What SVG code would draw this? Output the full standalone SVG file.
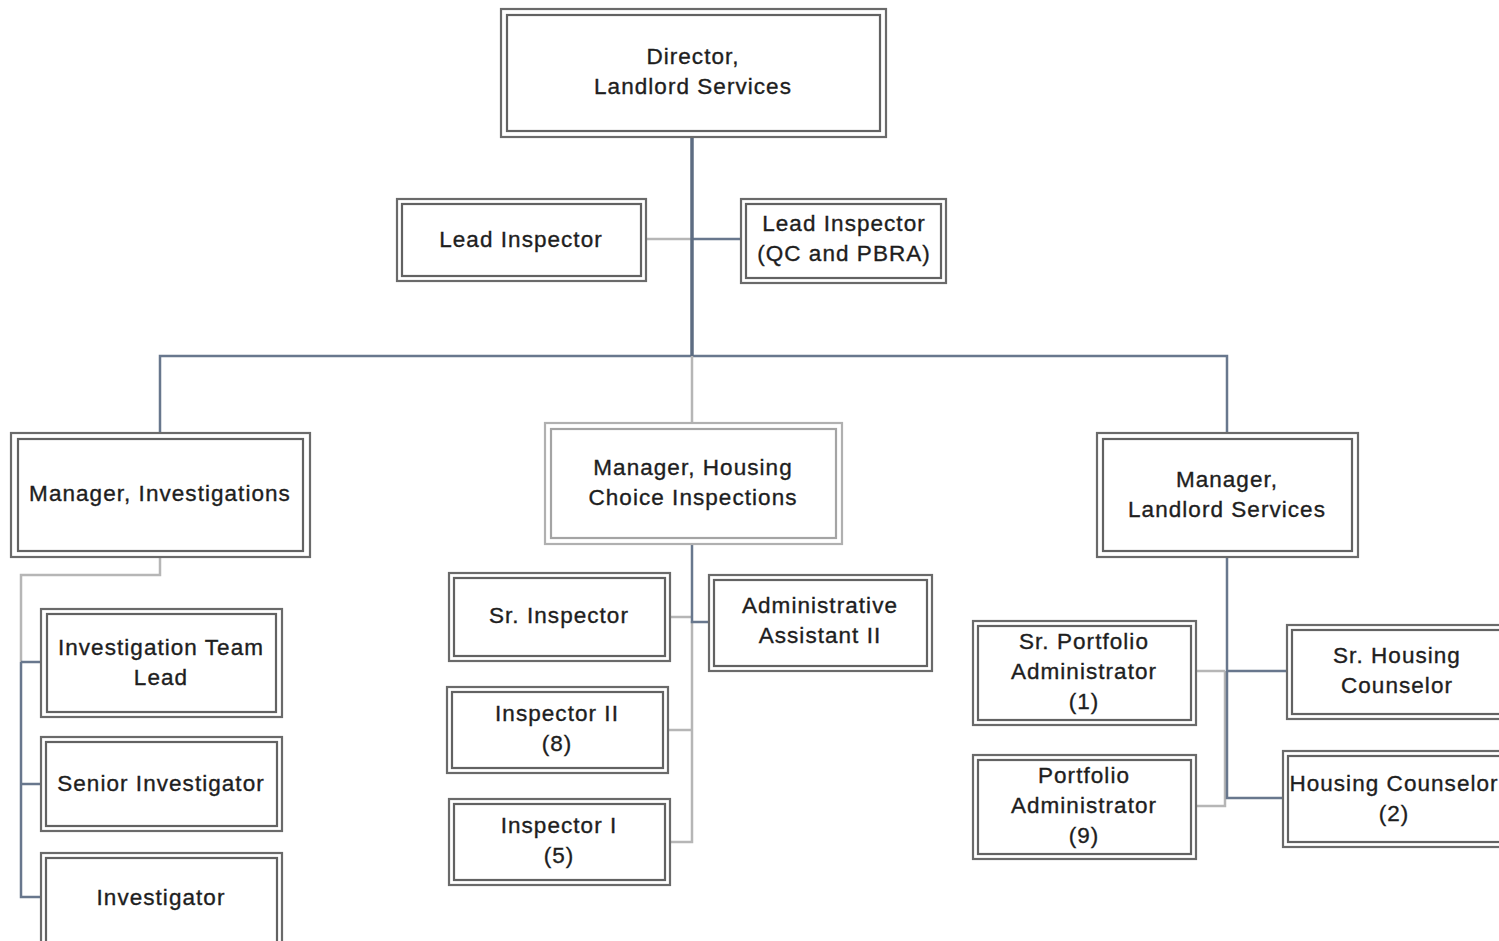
<svg xmlns="http://www.w3.org/2000/svg" width="1499" height="941" viewBox="0 0 1499 941">
  <style>
    .bg { fill: #ffffff; }
    .outer { fill: #ffffff; stroke: #6a6a6a; stroke-width: 2.2; }
    .inner { fill: none; stroke: #626262; stroke-width: 2.2; }
    .soft .outer { stroke: #b0b0b0; }
    .soft .inner { stroke: #a4a4a4; }
    .label { font-family: "Liberation Sans", Arial, sans-serif; font-size: 22.5px; letter-spacing: 1.05px; fill: #1e1e1e; stroke: #1e1e1e; stroke-width: 0.35; text-anchor: middle; }
    .dark { fill: none; stroke: #68778d; stroke-width: 2.5; }
    .trunk { fill: none; stroke: #5d6c82; stroke-width: 3.5; }
    .light { fill: none; stroke: #b6b6b6; stroke-width: 2.5; }
  </style>

  <rect class="bg" x="0" y="0" width="1499" height="941"/>

  <!-- reporting lines -->
  <g id="connectors">
    <path class="light" d="M647,239 H692"/>
    <path class="dark" d="M692,239 H740"/>
    <path class="dark" d="M160,432 V356 H1227 V432"/>
    <path class="light" d="M692,356 V422"/>
    <path class="trunk" d="M692,128 V356"/>

    <path class="light" d="M160,558 V575 H21 V662"/>
    <path class="dark" d="M21,662 V897 H40 M21,662 H40 M21,784 H40"/>

    <path class="light" d="M671,617 H692 M692,621 V842 H671 M669,730 H692"/>
    <path class="dark" d="M692,545 V622 H708"/>

    <path class="light" d="M1197,671 H1225 M1197,806 H1225 V671"/>
    <path class="dark" d="M1227,558 V798 H1283 M1227,671 H1287"/>
  </g>

  <g id="director">
    <rect class="outer" x="501" y="9" width="385" height="128"/>
    <rect class="inner" x="507" y="15" width="373" height="116"/>
    <text class="label" x="693" y="64">Director,</text>
    <text class="label" x="693" y="94">Landlord Services</text>
  </g>

  <g id="lead-inspector">
    <rect class="outer" x="397" y="199" width="249" height="82"/>
    <rect class="inner" x="402" y="204" width="239" height="72"/>
    <text class="label" x="521" y="246.5">Lead Inspector</text>
  </g>

  <g id="lead-inspector-qc">
    <rect class="outer" x="741" y="199" width="205" height="84"/>
    <rect class="inner" x="746" y="204" width="195" height="74"/>
    <text class="label" x="844" y="230.5">Lead Inspector</text>
    <text class="label" x="844" y="260.5">(QC and PBRA)</text>
  </g>

  <g id="manager-investigations">
    <rect class="outer" x="11" y="433" width="299" height="124"/>
    <rect class="inner" x="18" y="439" width="285" height="112"/>
    <text class="label" x="160" y="500.5">Manager, Investigations</text>
  </g>

  <g id="manager-hci" class="soft">
    <rect class="outer" x="545" y="423" width="297" height="121"/>
    <rect class="inner" x="551" y="429" width="285" height="109"/>
    <text class="label" x="693" y="474.5">Manager, Housing</text>
    <text class="label" x="693" y="504.5">Choice Inspections</text>
  </g>

  <g id="manager-landlord">
    <rect class="outer" x="1097" y="433" width="261" height="124"/>
    <rect class="inner" x="1103" y="439" width="249" height="112"/>
    <text class="label" x="1227" y="486.5">Manager,</text>
    <text class="label" x="1227" y="516.5">Landlord Services</text>
  </g>

  <g id="investigation-team-lead">
    <rect class="outer" x="41" y="609" width="241" height="108"/>
    <rect class="inner" x="47" y="614" width="229" height="98"/>
    <text class="label" x="161" y="654.5">Investigation Team</text>
    <text class="label" x="161" y="684.5">Lead</text>
  </g>

  <g id="senior-investigator">
    <rect class="outer" x="41" y="737" width="241" height="94"/>
    <rect class="inner" x="46" y="742" width="231" height="84"/>
    <text class="label" x="161" y="790.5">Senior Investigator</text>
  </g>

  <g id="investigator">
    <rect class="outer" x="41" y="853" width="241" height="100"/>
    <rect class="inner" x="46" y="858" width="231" height="100"/>
    <text class="label" x="161" y="904.5">Investigator</text>
  </g>

  <g id="sr-inspector">
    <rect class="outer" x="449" y="573" width="221" height="88"/>
    <rect class="inner" x="454" y="578" width="211" height="78"/>
    <text class="label" x="559" y="622.5">Sr. Inspector</text>
  </g>

  <g id="admin-assistant">
    <rect class="outer" x="709" y="575" width="223" height="96"/>
    <rect class="inner" x="714" y="580" width="213" height="86"/>
    <text class="label" x="820" y="612.5">Administrative</text>
    <text class="label" x="820" y="642.5">Assistant II</text>
  </g>

  <g id="inspector-ii">
    <rect class="outer" x="447" y="687" width="221" height="86"/>
    <rect class="inner" x="452" y="692" width="211" height="76"/>
    <text class="label" x="557" y="720.5">Inspector II</text>
    <text class="label" x="557" y="750.5">(8)</text>
  </g>

  <g id="inspector-i">
    <rect class="outer" x="449" y="799" width="221" height="86"/>
    <rect class="inner" x="454" y="804" width="211" height="76"/>
    <text class="label" x="559" y="832.5">Inspector I</text>
    <text class="label" x="559" y="862.5">(5)</text>
  </g>

  <g id="sr-portfolio-admin">
    <rect class="outer" x="973" y="621" width="223" height="104"/>
    <rect class="inner" x="978" y="626" width="213" height="94"/>
    <text class="label" x="1084" y="648.5">Sr. Portfolio</text>
    <text class="label" x="1084" y="678.5">Administrator</text>
    <text class="label" x="1084" y="708.5">(1)</text>
  </g>

  <g id="portfolio-admin">
    <rect class="outer" x="973" y="755" width="223" height="104"/>
    <rect class="inner" x="978" y="760" width="213" height="94"/>
    <text class="label" x="1084" y="782.5">Portfolio</text>
    <text class="label" x="1084" y="812.5">Administrator</text>
    <text class="label" x="1084" y="842.5">(9)</text>
  </g>

  <g id="sr-housing-counselor">
    <rect class="outer" x="1287" y="625" width="240" height="94"/>
    <rect class="inner" x="1292" y="630" width="230" height="84"/>
    <text class="label" x="1397" y="662.5">Sr. Housing</text>
    <text class="label" x="1397" y="692.5">Counselor</text>
  </g>

  <g id="housing-counselor">
    <rect class="outer" x="1283" y="751" width="240" height="96"/>
    <rect class="inner" x="1288" y="756" width="230" height="86"/>
    <text class="label" x="1394" y="790.5">Housing Counselor</text>
    <text class="label" x="1394" y="820.5">(2)</text>
  </g>
</svg>
